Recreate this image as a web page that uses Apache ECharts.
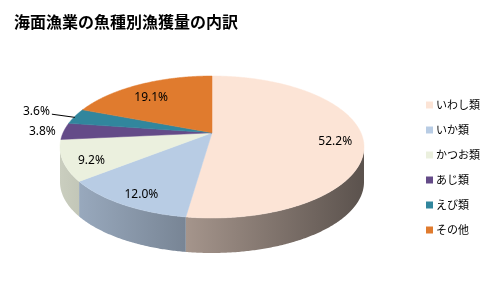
<!DOCTYPE html>
<html><head><meta charset="utf-8">
<script src="https://cdn.jsdelivr.net/npm/echarts@6/dist/echarts.min.js"></script>
<style>html,body{margin:0;padding:0;background:#fff}#c{width:497px;height:298px}</style>
</head><body><div id="c"></div>
<script>
const title = '海面漁業の魚種別漁獲量の内訳';
const categories = ['いわし類', 'いか類', 'かつお類', 'あじ類', 'えび類', 'その他'];
const values = [52.2, 12.0, 9.2, 3.8, 3.6, 19.1];
const colors = ['#FCE4D6', '#B8CCE4', '#EBF0DE', '#644B88', '#31869D', '#E07B2E'];

// geometry (style)
const CX = 212, CY = 147, RX = 152, RY = 71, K = 0.2, DEPTH = 35;
const total = values.reduce((a, b) => a + b, 0);
const starts = [], ends = [];
let acc = 0;
values.forEach(v => { starts.push(acc / total * 2 * Math.PI); acc += v; ends.push(acc / total * 2 * Math.PI); });

function proj(t, r) {
  const u = Math.sin(t) * r, v = -Math.cos(t) * r;
  const d = 1 - K * v;
  return [CX + RX * u * Math.sqrt(1 - K * K) / d, CY + RY * (v - K) / d];
}
function arc(a, b, r) {
  const n = Math.max(2, Math.ceil((b - a) / (Math.PI / 360)));
  const pts = [];
  for (let i = 0; i <= n; i++) pts.push(proj(a + (b - a) * i / n, r));
  return pts;
}
function scale(hex, f) {
  const n = parseInt(hex.slice(1), 16);
  const r = Math.round(((n >> 16) & 255) * f), g = Math.round(((n >> 8) & 255) * f), b = Math.round((n & 255) * f);
  return 'rgb(' + r + ',' + g + ',' + b + ')';
}
const visA = Math.acos(-K), visB = 2 * Math.PI - Math.acos(-K);

// label positions
const labelPos = [];
let lastOutsideY = null;
values.forEach((v, i) => {
  const mid = (starts[i] + ends[i]) / 2;
  const pct = v.toFixed(1) + '%';
  if (v / total >= 0.05) {
    const p = proj(mid, 0.82);
    labelPos.push({ text: pct, x: p[0], y: p[1] + 5, align: 'center' });
  } else {
    const e = proj(mid, 1);
    let y = e[1], x = e[0] - 8, leader = null;
    if (lastOutsideY !== null && lastOutsideY - y < 20) {
      y = lastOutsideY - 20; x = e[0] - 25;
      leader = [[x + 2, y + 3], [e[0], e[1] + 1]];
    }
    lastOutsideY = y;
    labelPos.push({ text: pct, x: x, y: y, align: 'right', leader: leader });
  }
});

const chart = echarts.init(document.getElementById('c'));
chart.setOption({
  animation: false,
  color: colors,
  title: { text: title, left: 9, top: 9, textStyle: { fontFamily: 'Noto Sans CJK JP', fontSize: 16, fontWeight: 'bold', color: '#000' } },
  legend: {
    data: categories, orient: 'vertical', left: 421, top: 93,
    itemWidth: 7, itemHeight: 7, itemGap: 11, icon: 'rect',
    textStyle: { fontFamily: 'Noto Sans CJK JP', fontSize: 11, color: '#000', lineHeight: 14, padding: [0, 0, 0, -2] }
  },
  series: [
    {
      type: 'pie', radius: [0, 1], center: [-50, -50], silent: true, label: { show: false },
      data: categories.map((c, i) => ({ name: c, value: values[i] }))
    },
    {
      type: 'custom', coordinateSystem: 'none', silent: true,
      data: values.map((v, i) => ({ name: categories[i], value: v })),
      renderItem: function (params, api) {
        const i = params.dataIndex;
        const a = starts[i], b = ends[i];
        const children = [];
        const s = Math.max(a, visA), e = Math.min(b, visB);
        if (s < e) {
          const top = arc(s, e, 1);
          const bot = top.map(p => [p[0], p[1] + DEPTH]).reverse();
          children.push({
            type: 'polygon', shape: { points: top.concat(bot) },
            style: { fill: new echarts.graphic.LinearGradient(CX - RX, 0, CX + RX, 0, [
              { offset: 0, color: scale(colors[i], 0.86) },
              { offset: 1, color: scale(colors[i], 0.36) }], true), stroke: null }
          });
        }
        const pts = [proj(0, 0)].concat(arc(a, b, 1));
        children.push({ type: 'polygon', shape: { points: pts }, style: { fill: colors[i], stroke: colors[i], lineWidth: 0.5 } });
        const L = labelPos[i];
        if (L.leader) {
          children.push({ type: 'polyline', shape: { points: L.leader }, style: { stroke: '#000', lineWidth: 1, fill: null }, z2: 10 });
        }
        children.push({
          type: 'text', x: L.x, y: L.y, z2: 10,
          style: { text: L.text, fill: '#000', font: '12px "Noto Sans"', align: L.align, verticalAlign: 'middle' }
        });
        return { type: 'group', children: children };
      }
    }
  ]
});
</script></body></html>
